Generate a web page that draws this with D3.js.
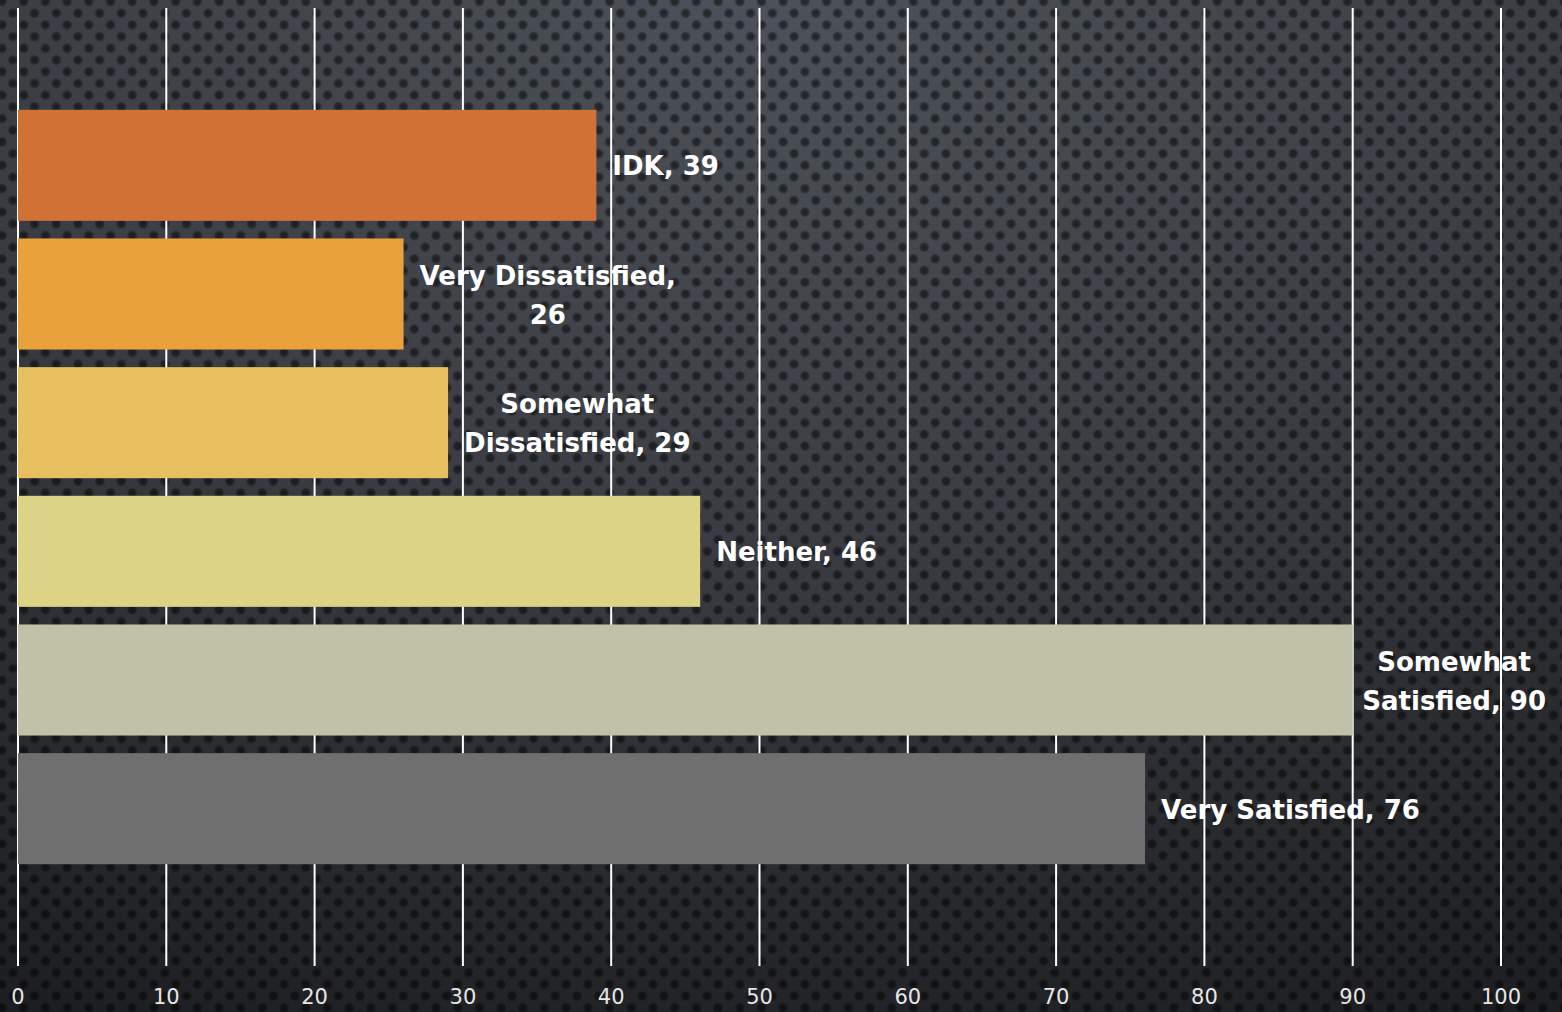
<!DOCTYPE html>
<html lang="en">
<head>
  <meta charset="UTF-8" />
  <title>Satisfaction</title>
  <style>
    html, body { margin: 0; padding: 0; background: #2a2c30; }
    svg { display: block; }
    .tick-label { font-family: "DejaVu Sans", sans-serif; font-size: 21px; fill: #e6e6e6; }
    .bar-label { font-family: "DejaVu Sans", sans-serif; font-weight: bold; font-size: 26px; fill: #ffffff; }
  </style>
</head>
<body>
<svg id="chart" width="1562" height="1012"></svg>
<script src="https://d3js.org/d3.v7.min.js"></script>
<script>
  // data
  const categories = ['IDK', 'Very Dissatisfied', 'Somewhat Dissatisfied', 'Neither', 'Somewhat Satisfied', 'Very Satisfied'];
  const values = [39, 26, 29, 46, 90, 76];
  const barColors = ['#d07235', '#e9a23b', '#e8bf5e', '#ddd386', '#c0c1a6', '#6f6f6f'];
  const labelLines = [
    ['IDK, 39'],
    ['Very Dissatisfied,', '26'],
    ['Somewhat', 'Dissatisfied, 29'],
    ['Neither, 46'],
    ['Somewhat', 'Satisfied, 90'],
    ['Very Satisfied, 76']
  ];
  const tickValues = [0, 10, 20, 30, 40, 50, 60, 70, 80, 90, 100];

  const W = 1562, H = 1012;
  const svg = d3.select('#chart');
  const defs = svg.append('defs');

  // background: shading from the top + dotted texture
  const grad = defs.append('radialGradient').attr('id', 'bg')
    .attr('cx', '50%').attr('cy', '0%').attr('r', '110%');
  grad.append('stop').attr('offset', '0%').attr('stop-color', '#4d5159');
  grad.append('stop').attr('offset', '45%').attr('stop-color', '#3b3e44');
  grad.append('stop').attr('offset', '100%').attr('stop-color', '#1d1e21');

  const dotGrad = defs.append('radialGradient').attr('id', 'dot');
  dotGrad.append('stop').attr('offset', '0%').attr('stop-color', '#000').attr('stop-opacity', 0.55);
  dotGrad.append('stop').attr('offset', '60%').attr('stop-color', '#000').attr('stop-opacity', 0.45);
  dotGrad.append('stop').attr('offset', '100%').attr('stop-color', '#000').attr('stop-opacity', 0);

  const pat = defs.append('pattern').attr('id', 'dots')
    .attr('patternUnits', 'userSpaceOnUse')
    .attr('x', 2).attr('y', 1.5)
    .attr('width', 21.7).attr('height', 23.4);
  [[0, 0], [21.7, 0], [10.85, 11.7], [0, 23.4], [21.7, 23.4]].forEach(([cx, cy]) => {
    pat.append('circle').attr('cx', cx).attr('cy', cy).attr('r', 5.5).attr('fill', 'url(#dot)');
  });

  svg.append('rect').attr('width', W).attr('height', H).attr('fill', 'url(#bg)');
  svg.append('rect').attr('width', W).attr('height', H).attr('fill', 'url(#dots)');

  const x = d3.scaleLinear().domain([0, 100]).range([18, 1501]);
  const y = d3.scaleBand().domain(categories).range([101, 873])
    .paddingInner(0.137).paddingOuter(0.0685);

  // gridlines
  svg.append('g').selectAll('line').data(tickValues).join('line')
    .attr('x1', d => x(d)).attr('x2', d => x(d))
    .attr('y1', 8).attr('y2', 966)
    .attr('stroke', '#ffffff').attr('stroke-width', 2);

  // bars
  svg.append('g').selectAll('rect').data(categories).join('rect')
    .attr('x', x(0))
    .attr('y', d => y(d))
    .attr('width', (d, i) => x(values[i]) - x(0))
    .attr('height', y.bandwidth())
    .attr('fill', (d, i) => barColors[i]);

  // tick labels
  svg.append('g').selectAll('text').data(tickValues).join('text')
    .attr('class', 'tick-label')
    .attr('x', d => x(d))
    .attr('y', 1004)
    .attr('text-anchor', 'middle')
    .text(d => d);

  // data labels
  const lineH = 39;
  const lg = svg.append('g');
  categories.forEach((c, i) => {
    const lines = labelLines[i];
    const t = lg.append('text').attr('class', 'bar-label').attr('text-anchor', 'middle');
    lines.forEach(s => t.append('tspan').text(s));
    const widths = [];
    t.selectAll('tspan').each(function () { widths.push(this.getComputedTextLength()); });
    const boxW = d3.max(widths);
    let left = x(values[i]) + 16;
    if (left + boxW > W - 16) left = W - 16 - boxW;
    const cx = left + boxW / 2;
    const cy = y(c) + y.bandwidth() / 2;
    const firstBase = cy - (lines.length - 1) * lineH / 2 + 10;
    t.selectAll('tspan')
      .attr('x', cx)
      .attr('y', (d, j) => firstBase + j * lineH);
  });
</script>
</body>
</html>
